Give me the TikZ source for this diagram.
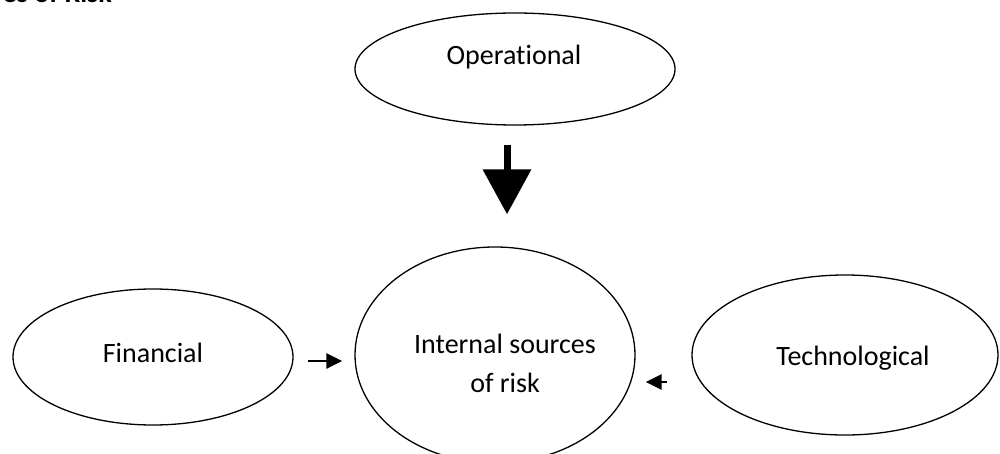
\documentclass[tikz,border=0pt]{standalone}
\usepackage{fontspec}
\setmainfont[Ligatures=NoCommon]{Carlito}
\usetikzlibrary{shapes.geometric,arrows.meta,calc}
\begin{document}
\begin{tikzpicture}[x=1pt,y=-1pt,
  bubble/.style={draw=black,line width=1.3pt,ellipse,inner sep=0pt},
  lbl/.style={font=\fontsize{28}{39}\selectfont,inner sep=0pt,anchor=base},
  thin arrow/.style={draw=black,line width=2.6pt,-{Triangle[length=16pt,width=15pt]}},
  big arrow/.style={draw=black,line width=7pt,-{Triangle[length=45pt,width=47pt]}}]
\useasboundingbox (0,0) rectangle (1000,454);
\begin{scope}
\clip (0,0) rectangle (1000,454);
\node[lbl,anchor=base east,font=\fontsize{28}{34}\selectfont\bfseries] (title) at (112,2.5) {es of Risk};
\node[bubble,minimum width=320pt,minimum height=112pt] (op) at (515,69) {};
\node[bubble,minimum width=280pt,minimum height=136pt] (fin) at (153,357) {};
\node[bubble,minimum width=306pt,minimum height=160pt] (tech) at (845,355) {};
\node[bubble,minimum width=280pt,minimum height=216pt] (risk) at (495,355) {};
\end{scope}
\node[lbl] (optext) at (514,65) {Operational};
\node[lbl] (fintext) at (153,362) {Financial};
\node[lbl] (techtext) at (853,365) {Technological};
\node[lbl] (risktext1) at (505,353) {Internal sources};
\node[lbl] (risktext2) at (505,392) {of risk};
\coordinate (opA) at ($(op.south)+(-8,19)$);
\coordinate (opB) at ($(risk.north)+(12,-32)$);
\draw[big arrow] (opA) -- (opB);
\coordinate (finA) at ($(fin.east)+(14,4)$);
\coordinate (finB) at ($(risk.west)+(-12,6)$);
\draw[thin arrow] (finA) -- (finB);
\coordinate (techA) at ($(tech.west)+(-24,27)$);
\coordinate (techB) at ($(risk.east)+(10,27)$);
\draw[thin arrow] (techA) -- (techB);
\end{tikzpicture}
\end{document}
